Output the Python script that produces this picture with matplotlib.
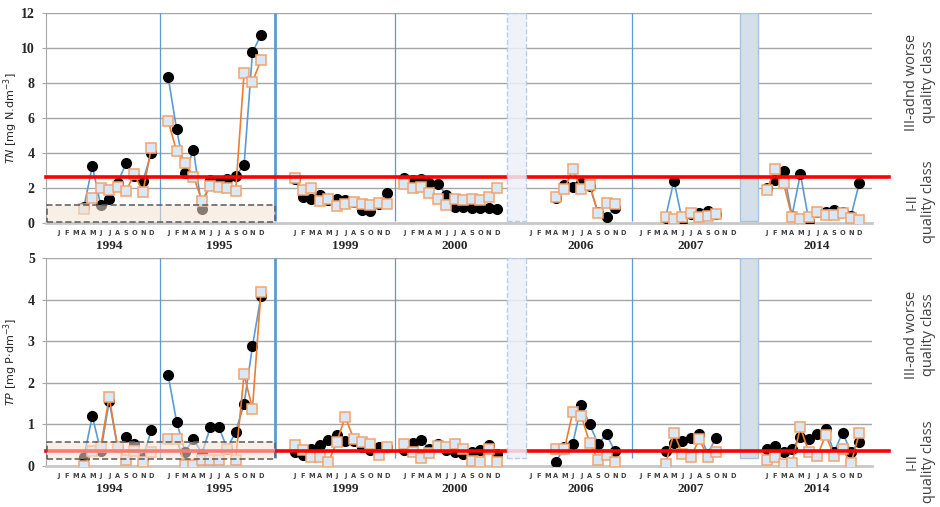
import numpy as np
import matplotlib
matplotlib.use("Agg")
import matplotlib.pyplot as plt
from matplotlib.patches import Rectangle
from matplotlib.transforms import blended_transform_factory

nan = np.nan

# sampling years and number of empty month slots in front of each year
years = ["1994", "1995", "1999", "2000", "2006", "2007", "2014"]
gap_before = [1, 1, 3, 1, 3, 1, 3]
month_letters = ["J", "F", "M", "A", "M", "J", "J", "A", "S", "O", "N", "D"]

# TN [mg N dm-3], two monitoring points, 12 months per year
tn_a = {
    "1994": [nan, nan, nan, 0.9, 3.25, 1.0, 1.35, 2.3, 3.4, 2.7, 2.4, 4.0],
    "1995": [8.33, 5.35, 2.87, 4.17, 0.8, 2.45, 2.4, 2.5, 2.7, 3.3, 9.75, 10.74],
    "1999": [2.5, 1.5, 1.37, 1.6, 1.3, 1.37, 1.3, 1.2, 0.74, 0.7, 1.1, 1.73],
    "2000": [2.59, 2.46, 2.5, 2.3, 2.23, 1.6, 0.93, 0.9, 0.84, 0.84, 0.84, 0.78],
    "2006": [nan, nan, nan, 1.4, 2.17, 2.07, 2.27, 2.1, 0.6, 0.36, 0.84, nan],
    "2007": [nan, nan, nan, 0.3, 2.42, 0.1, 0.5, 0.59, 0.69, 0.5, nan, nan],
    "2014": [2.0, 2.46, 2.99, 0.4, 2.8, 0.13, 0.6, 0.6, 0.74, 0.6, 0.4, 2.3],
}
tn_b = {
    "1994": [nan, nan, nan, 0.8, 1.4, 1.98, 1.9, 2.07, 1.85, 2.78, 1.77, 4.3],
    "1995": [5.83, 4.1, 3.4, 2.65, 1.28, 2.13, 2.07, 1.98, 1.83, 8.55, 8.07, 9.3],
    "1999": [2.55, 1.9, 1.98, 1.26, 1.37, 0.99, 1.09, 1.18, 1.09, 1.05, 1.12, 1.07],
    "2000": [2.2, 2.02, 2.07, 1.73, 1.35, 1.03, 1.37, 1.31, 1.37, 1.31, 1.5, 1.98],
    "2006": [nan, nan, nan, 1.5, 1.93, 3.07, 1.93, 2.17, 0.55, 1.16, 1.09, nan],
    "2007": [nan, nan, nan, 0.33, 0.21, 0.33, 0.55, 0.36, 0.4, 0.5, nan, nan],
    "2014": [1.88, 3.09, 2.27, 0.36, 0.25, 0.33, 0.61, 0.46, 0.46, 0.55, 0.3, 0.17],
}

# TP [mg P dm-3]
tp_a = {
    "1994": [nan, nan, nan, 0.21, 1.2, 0.35, 1.56, 0.45, 0.69, 0.52, 0.2, 0.86],
    "1995": [2.18, 1.06, 0.34, 0.65, 0.3, 0.93, 0.94, 0.42, 0.82, 1.49, 2.88, 4.08],
    "1999": [0.34, 0.26, 0.41, 0.5, 0.62, 0.74, 0.61, 0.6, 0.45, 0.38, 0.45, 0.45],
    "2000": [0.38, 0.56, 0.62, 0.42, 0.52, 0.38, 0.34, 0.29, 0.34, 0.38, 0.5, 0.3],
    "2006": [nan, nan, nan, 0.1, 0.45, 0.54, 1.46, 1.0, 0.53, 0.76, 0.35, nan],
    "2007": [nan, nan, nan, 0.36, 0.56, 0.6, 0.68, 0.78, 0.3, 0.68, nan, nan],
    "2014": [0.42, 0.48, 0.34, 0.41, 0.69, 0.64, 0.78, 0.89, 0.34, 0.8, 0.34, 0.57],
}
tp_b = {
    "1994": [nan, nan, nan, 0.0, 0.35, 0.45, 1.66, 0.45, 0.14, 0.35, 0.1, 0.34],
    "1995": [0.65, 0.65, 0.03, 0.03, 0.14, 0.14, 0.14, 0.4, 0.14, 2.2, 1.38, 4.18],
    "1999": [0.5, 0.38, 0.21, 0.21, 0.09, 0.58, 1.18, 0.66, 0.58, 0.52, 0.26, 0.46],
    "2000": [0.54, 0.34, 0.18, 0.32, 0.48, 0.46, 0.52, 0.41, 0.13, 0.1, 0.41, 0.09],
    "2006": [nan, nan, nan, 0.4, 0.41, 1.29, 1.21, 0.56, 0.14, 0.26, 0.1, nan],
    "2007": [nan, nan, nan, 0.04, 0.8, 0.28, 0.22, 0.64, 0.22, 0.33, nan, nan],
    "2014": [0.14, 0.21, 0.05, 0.06, 0.93, 0.33, 0.24, 0.74, 0.25, 0.41, 0.06, 0.8],
}

tn_limit = 2.6
tp_limit = 0.35

# x position of each month slot (category axis, centred on .5)
starts = {}
pos = 0
for y, g in zip(years, gap_before):
    pos += g
    starts[y] = pos
    pos += 12
n_slots = pos + 1

C_BLUE = "#5b9bd5"
C_ORANGE = "#ed7d31"
C_SQ_FACE = "#dae8f5"
C_SQ_EDGE = "#f4a36e"
C_GRID = "#a6a6a6"


def draw_panel(ax, ser_a, ser_b, ymax, ystep, limit, box, vbot, ylabel):
    ax.set_xlim(0, n_slots)
    ax.set_ylim(0, ymax)
    ax.set_yticks(np.arange(0, ymax + 0.01, ystep))
    ax.yaxis.grid(True, color=C_GRID, lw=1)
    ax.set_axisbelow(True)
    ax.set_xticks([])
    for s in ["top", "right"]:
        ax.spines[s].set_visible(False)
    ax.spines["left"].set_color(C_GRID)
    ax.spines["bottom"].set_color("#c8c8c8")
    ax.spines["bottom"].set_linewidth(2)
    ax.tick_params(axis="y", length=3, color=C_GRID, pad=5)
    for lab in ax.get_yticklabels():
        lab.set_fontfamily("Liberation Serif")
        lab.set_fontweight("bold")
        lab.set_fontsize(10)
        lab.set_color("#262626")

    for y in years:
        x = starts[y] + np.arange(12) + 0.5
        ax.plot(x, ser_a[y], "-", color=C_BLUE, lw=1.2, zorder=3)
        ax.plot(x, ser_a[y], "o", color="black", ms=7, zorder=3)
        ax.plot(x, ser_b[y], "-", color=C_ORANGE, lw=1.2, zorder=4)
        ax.plot(x, ser_b[y], "s", mfc=C_SQ_FACE, mec=C_SQ_EDGE, mew=1.1,
                ms=7.5, zorder=4)

    # year separators and breaks in the series
    ax.vlines([13.5, 41.4, 69.5], vbot, ymax, color=C_BLUE, lw=0.9, zorder=2)
    ax.vlines([27.2], vbot, ymax, color=C_BLUE, lw=2.0, zorder=2)
    ax.add_patch(Rectangle((54.7, vbot), 2.2, ymax - vbot, facecolor="#eef0fa",
                           edgecolor="#a9c7ec", ls="--", lw=1, alpha=0.85,
                           zorder=6))
    ax.add_patch(Rectangle((82.3, vbot), 2.2, ymax - vbot, facecolor="#d5dfea",
                           edgecolor="#a6c3e3", lw=1, zorder=1.5))

    ax.plot([0, 100], [limit, limit], color="red", lw=2.6, zorder=5,
            clip_on=False)

    # reference range of the first two years
    ax.add_patch(Rectangle((0.1, box[0]), 27.1, box[1] - box[0],
                           facecolor="#f3e3d5", alpha=0.55, edgecolor="none",
                           zorder=7))
    ax.add_patch(Rectangle((0.1, box[0]), 27.1, box[1] - box[0],
                           facecolor="none", edgecolor="#595959", ls=(0, (4, 2)),
                           lw=1.1, zorder=7))

    trans = blended_transform_factory(ax.transData, ax.transAxes)
    for y in years:
        for i, m in enumerate(month_letters):
            ax.annotate(m, (starts[y] + i + 0.5, 0), xycoords=trans,
                        xytext=(0, -7.5), textcoords="offset points",
                        ha="center", va="center", fontsize=4.8,
                        color="#404040", fontweight="bold")
        ax.annotate(y, (starts[y] + 6.5, 0), xycoords=trans,
                    xytext=(0, -16.5), textcoords="offset points",
                    ha="center", va="center", fontsize=9.5,
                    fontfamily="Liberation Serif", fontweight="bold",
                    color="#262626")

    ax.set_ylabel(ylabel, fontsize=8, color="#262626")
    ax.yaxis.set_label_coords(-0.031, 0.5)


fig = plt.figure(figsize=(9.4, 5.07), dpi=100)
ax1 = fig.add_axes([0.0489, 0.5602, 0.8788, 0.4142])
ax2 = fig.add_axes([0.0489, 0.0809, 0.8788, 0.4102])

draw_panel(ax1, tn_a, tn_b, 12, 2, tn_limit, (0.05, 1.05), 0.1,
           r"$TN$ [mg N.dm$^{-3}$]")
draw_panel(ax2, tp_a, tp_b, 5, 1, tp_limit, (0.17, 0.57), 0.18,
           r"$TP$ [mg P$\cdot$dm$^{-3}$]")

rkw = dict(rotation=90, ha="center", va="center", fontsize=10.5,
           fontfamily="Open Sans", color="#404040", multialignment="center",
           linespacing=1.2)
fig.text(0.979, 1 - 82 / 507, "III-adnd worse\nquality class", **rkw)
fig.text(0.979, 1 - 202 / 507, "I-II\nquality class", **rkw)
fig.text(0.979, 1 - 335 / 507, "III-and worse\nquality class", **rkw)
fig.text(0.979, 1 - 462 / 507, "I-II\nquality class", **rkw)

fig.savefig("out.png", dpi=100)
